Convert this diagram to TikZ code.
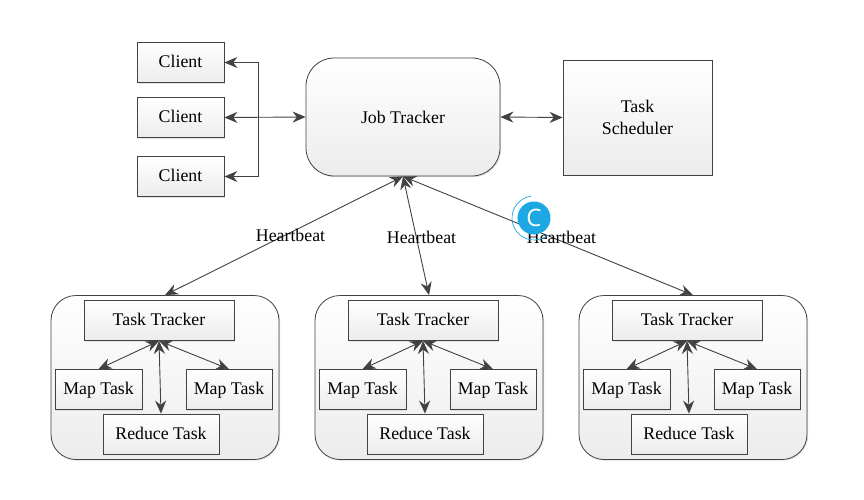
\documentclass[tikz,border=0pt]{standalone}
\usepackage{fontspec}
\setmainfont{Liberation Serif}
\newfontfamily\badgefont{Open Sans}
\usepackage{xcolor}
\usetikzlibrary{calc,positioning,arrows.meta,shadows}
\definecolor{edgegray}{RGB}{66,66,66}
\definecolor{shadegray}{RGB}{236,236,236}
\definecolor{badgeblue}{RGB}{28,168,226}
\tikzset{
  softbox/.style={draw=edgegray, line width=0.8pt, top color=white, bottom color=shadegray,
    drop shadow={shadow xshift=1.2pt, shadow yshift=-1.2pt, fill=black!18, opacity=0.6}},
  taskbox/.style={softbox, rectangle, minimum height=40pt, font=\fontsize{17.8}{20}\selectfont, align=center, inner sep=0pt},
  tasktext/.style={text height=14pt, text depth=4pt},
  roundbox/.style={softbox, rectangle, inner sep=0pt},
  link/.style={draw=edgegray, line width=0.9pt, -{Stealth[length=13pt,width=11pt]}},
  bilink/.style={link, {Stealth[length=13pt,width=11pt]}-{Stealth[length=13pt,width=11pt]}},
  beatlabel/.style={font=\fontsize{17.8}{20}\selectfont, inner sep=0pt}
}
\newcommand{\trackergroup}[2]{%
  % one tracker with its map and reduce tasks
  \node[roundbox, rounded corners=25pt, minimum width=228pt, minimum height=164pt] (group#1) at (#2+165,377.5) {};
  \node[taskbox, tasktext, minimum width=150pt] (tracker#1) at (#2+159,320.5) {Task Tracker};
  \node[taskbox, tasktext, minimum width=87pt] (mapl#1) at (#2+98.5,389.5) {Map Task};
  \node[taskbox, tasktext, minimum width=86pt] (mapr#1) at (#2+229,389.5) {Map Task};
  \node[taskbox, tasktext, minimum width=116pt] (reduce#1) at (#2+161,434) {Reduce Task};
  \draw[bilink] (tracker#1.south) -- (mapl#1.north);
  \draw[bilink] (tracker#1.south) -- (mapr#1.north);
  \draw[bilink] (tracker#1.south) -- (reduce#1.north);
}
\begin{document}
\begin{tikzpicture}[x=1pt,y=-1pt]
  \useasboundingbox[fill=white] (0,0) rectangle (864,500);

  % Clients
  \node[taskbox, tasktext, minimum width=87pt] (client1) at (180.5,62.5) {Client};
  \node[taskbox, tasktext, minimum width=87pt] (client2) at (180.5,117.5) {Client};
  \node[taskbox, tasktext, minimum width=87pt] (client3) at (180.5,176.5) {Client};

  % Job tracker and scheduler
  \node[roundbox, rounded corners=28pt, minimum width=194pt, minimum height=118pt, font=\fontsize{17.8}{20}\selectfont] (jobtracker) at (403,117) {Job Tracker};
  \node[taskbox, minimum width=149pt, minimum height=115pt] (scheduler) at (637.5,117.5) {Task\\[2pt]Scheduler};

  % Client links
  \coordinate (joint) at (258,117);
  \draw[bilink] (client2.east) -- (jobtracker.west);
  \draw[link] (joint) |- (client1.east);
  \draw[link] (joint) |- (client3.east);
  \draw[bilink] (jobtracker.east) -- (scheduler.west);

  % Tracker groups
  \trackergroup{1}{0}
  \trackergroup{2}{264}
  \trackergroup{3}{528}

  % Heartbeats
  \draw[bilink] (jobtracker.south) -- (group1.north);
  \draw[bilink] (jobtracker.south) -- (group2.north);
  \draw[bilink] (jobtracker.south) -- (group3.north);
  \node[beatlabel] (beat1) at (290.5,235) {Heartbeat};
  \node[beatlabel] (beat2) at (421.5,237) {Heartbeat};
  \node[beatlabel] (beat3) at (561.5,237) {Heartbeat};

  % Badge
  \node[circle, fill=badgeblue, minimum size=33pt, inner sep=0pt, text=white, font=\badgefont\fontsize{24}{24}\selectfont] (badge) at (534,218) {C};
  \draw[badgeblue, line width=0.7pt] (534,218) ++(52:22) arc (52:262:22);
\end{tikzpicture}
\end{document}
